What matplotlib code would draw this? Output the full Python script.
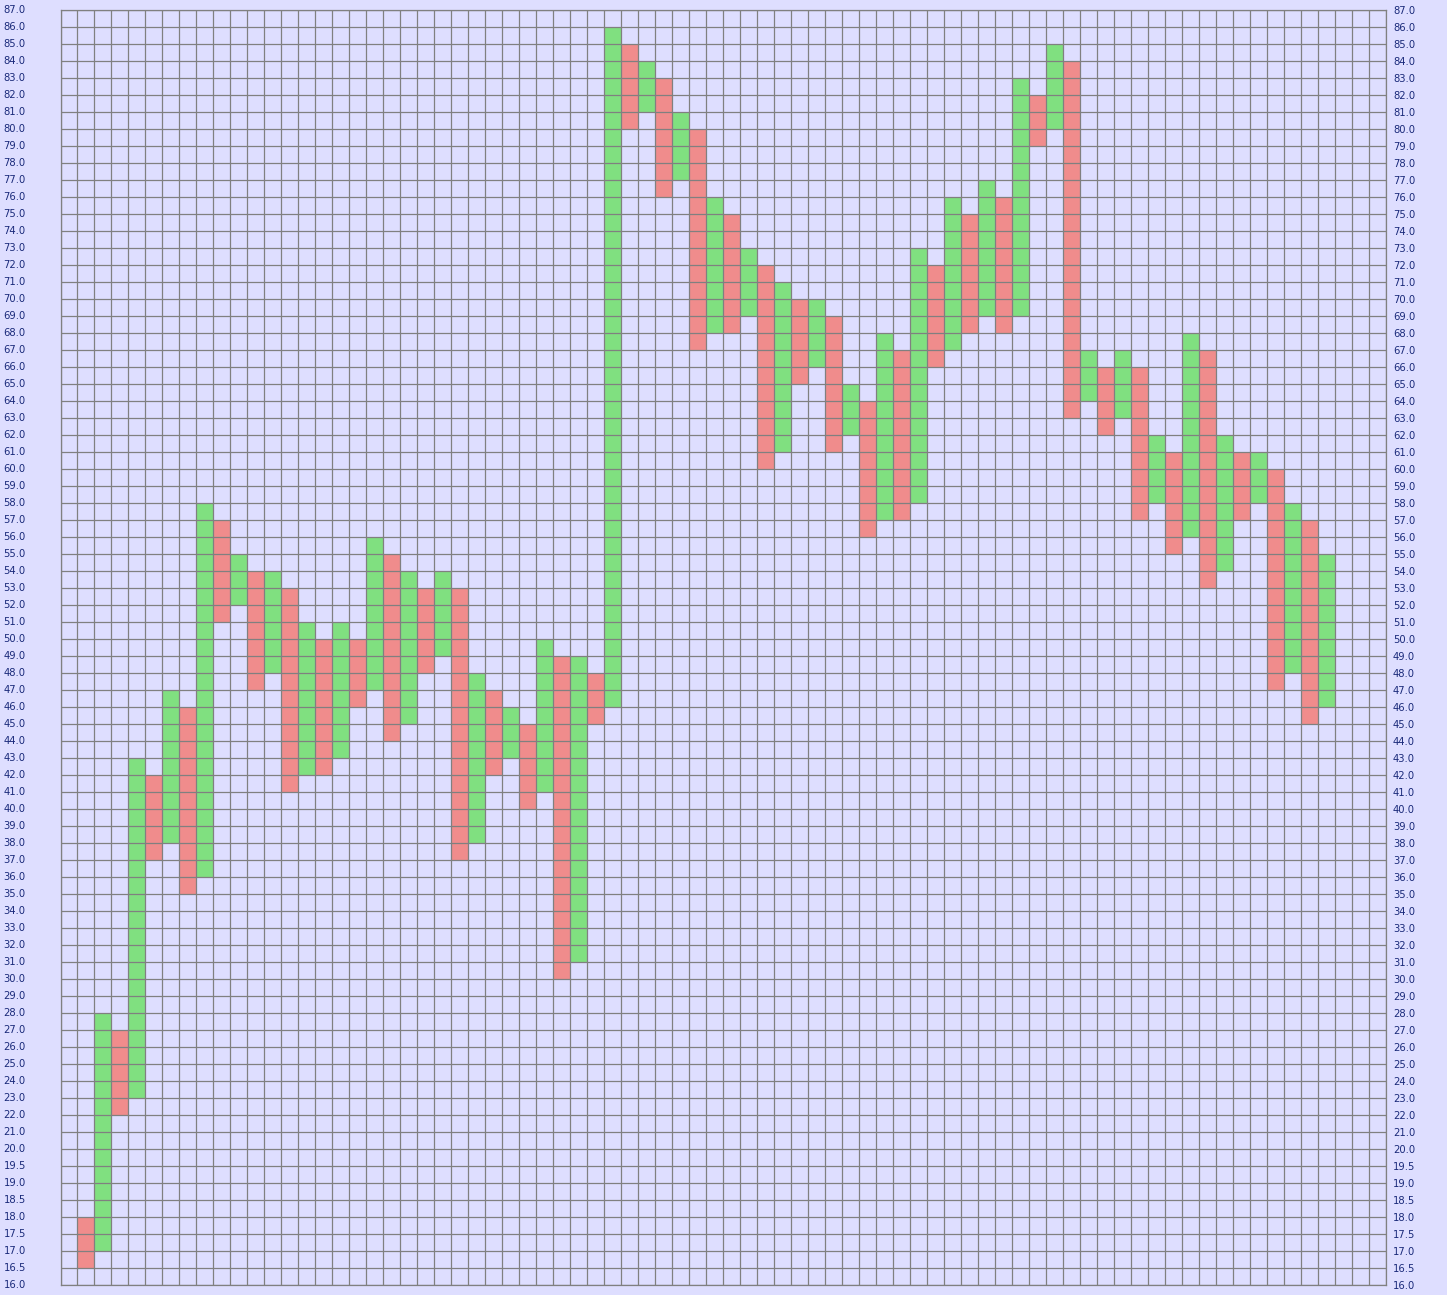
import matplotlib
matplotlib.use("Agg")
import matplotlib.pyplot as plt
import numpy as np

# price levels of the box grid (0.5 boxes below 20, 1.0 boxes above)
levels = [16.0, 16.5, 17.0, 17.5, 18.0, 18.5, 19.0, 19.5] + [float(v) for v in range(20, 88)]

# point & figure columns, left to right (first column at grid column 1)
kinds = ["O", "X"] * 37
lows = [16.5, 17, 22, 23, 37, 38, 35, 36, 51, 52, 47, 48, 41, 42, 42, 43, 46, 47, 44, 45,
        48, 49, 37, 38, 42, 43, 40, 41, 30, 31, 45, 46, 80, 81, 76, 77, 67, 68, 68, 69,
        60, 61, 65, 66, 61, 62, 56, 57, 57, 58, 66, 67, 68, 69, 68, 69, 79, 80, 63, 64,
        62, 63, 57, 58, 55, 56, 53, 54, 57, 58, 47, 48, 45, 46]
highs = [18, 28, 27, 43, 42, 47, 46, 58, 57, 55, 54, 54, 53, 51, 50, 51, 50, 56, 55, 54,
         53, 54, 53, 48, 47, 46, 45, 50, 49, 49, 48, 86, 85, 84, 83, 81, 80, 76, 75, 73,
         72, 71, 70, 70, 69, 65, 64, 68, 67, 73, 72, 76, 75, 77, 76, 83, 82, 85, 84, 67,
         66, 67, 66, 62, 61, 68, 67, 62, 61, 61, 60, 58, 57, 55]
first_col = 1
n_cols = 78

bg = "#dedeff"
up_color = "#80e080"
down_color = "#f08c8c"
grid_color = "#808080"
label_color = "#1a2a7a"


def idx(v):
    return levels.index(float(v))


fig = plt.figure(figsize=(14.47, 12.95), dpi=100, facecolor=bg)
ax = fig.add_axes([60.5 / 1447, 10 / 1295, (1386 - 60.5) / 1447, 1275 / 1295])
ax.set_facecolor(bg)

xs = np.arange(len(kinds)) + first_col
bottoms = [idx(l) for l in lows]
heights = [idx(h) - idx(l) for l, h in zip(lows, highs)]
colors = [up_color if k == "X" else down_color for k in kinds]
ax.bar(xs, heights, bottom=bottoms, width=1.0, align="edge", color=colors,
       linewidth=0, zorder=1)

n_rows = len(levels) - 1
ax.hlines(range(n_rows + 1), 0, n_cols, color=grid_color, linewidth=0.9, zorder=2)
ax.vlines(range(n_cols + 1), 0, n_rows, color=grid_color, linewidth=0.9, zorder=2)

ax.set_xlim(0, n_cols)
ax.set_ylim(0, n_rows)
ax.set_xticks([])
ax.set_yticks(range(len(levels)))
ax.set_yticklabels([f"{v:.1f}" for v in levels])
ax.tick_params(axis="y", length=0, pad=5, labelsize=7.2, labelcolor=label_color,
               left=False, right=False, labelleft=False, labelright=True)

# left labels: left-aligned near the figure edge
for v, lev in enumerate(levels):
    ax.text(-57 / 1325.5, v, f"{lev:.1f}", transform=ax.get_yaxis_transform(),
            ha="left", va="center", fontsize=7.2, color=label_color)

for sp in ax.spines.values():
    sp.set_color(grid_color)
    sp.set_linewidth(0.9)

fig.savefig("out.png", dpi=100, facecolor=bg)
